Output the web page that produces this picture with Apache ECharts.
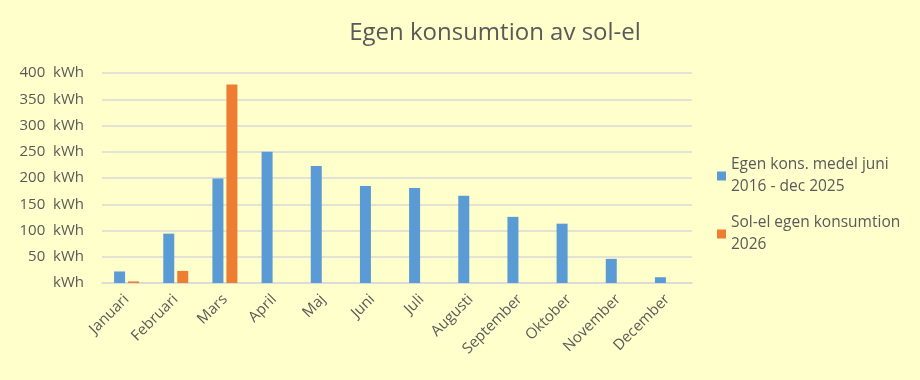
<!DOCTYPE html>
<html><head><meta charset="utf-8">
<script src="https://cdn.jsdelivr.net/npm/echarts@6/dist/echarts.min.js"></script>
<style>html,body{margin:0;padding:0;background:#FFFFCC;}#c{width:920px;height:380px;}</style>
</head><body><div id="c"></div>
<script>
const categories = ['Januari','Februari','Mars','April','Maj','Juni','Juli','Augusti','September','Oktober','November','December'];
const seriesNames = ['Egen kons. medel juni 2016 - dec 2025', 'Sol-el egen konsumtion 2026'];
const avgValues = [22, 94, 199, 250, 223, 185, 181, 166, 126, 113, 46, 11];
const values2026 = [3, 23, 378, null, null, null, null, null, null, null, null, null];
const legendLines = {
  'Egen kons. medel juni 2016 - dec 2025': 'Egen kons. medel juni\n2016 - dec 2025',
  'Sol-el egen konsumtion 2026': 'Sol-el egen konsumtion\n2026'
};
const font = '"Open Sans", "Noto Sans", sans-serif';
const chart = echarts.init(document.getElementById('c'));
chart.setOption({
  backgroundColor: '#FFFFCC',
  animation: false,
  title: {
    text: 'Egen konsumtion av sol-el',
    left: 490, top: 16, textAlign: 'center',
    textStyle: { fontFamily: font, fontSize: 24, fontWeight: 'normal', color: '#595959' }
  },
  legend: {
    orient: 'vertical', left: 712, top: 149,
    itemWidth: 9, itemHeight: 9, itemGap: 14,
    icon: 'rect',
    formatter: n => legendLines[n] || n,
    textStyle: { fontFamily: font, fontSize: 15.5, color: '#595959', lineHeight: 22 },
    data: seriesNames
  },
  grid: { left: 102, right: 228, top: 73, bottom: 97 },
  xAxis: {
    type: 'category', data: categories,
    axisLine: { lineStyle: { color: '#D9D9D9', width: 1.5 } },
    axisTick: { show: false },
    axisLabel: { rotate: 45, interval: 0, fontFamily: font, fontSize: 15, color: '#595959', margin: 14 }
  },
  yAxis: {
    type: 'value', min: 0, max: 400, interval: 50,
    axisLine: { show: false }, axisTick: { show: false },
    splitLine: { lineStyle: { color: '#D9D9D9', width: 1.5 } },
    axisLabel: {
      fontFamily: font, fontSize: 15, color: '#595959', margin: 18,
      formatter: v => v === 0 ? 'kWh' : v + '  kWh'
    }
  },
  series: [
    { name: seriesNames[0], type: 'bar', data: avgValues, barWidth: 11, barGap: '27%', barCategoryGap: '50%', itemStyle: { color: '#5B9BD5' } },
    { name: seriesNames[1], type: 'bar', data: values2026, barWidth: 11, itemStyle: { color: '#ED7D31' } }
  ]
});
</script></body></html>
